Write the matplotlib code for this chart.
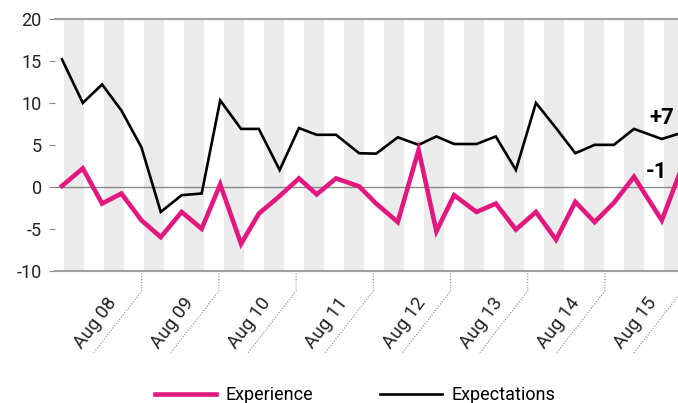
import matplotlib
matplotlib.use('Agg')
import matplotlib.pyplot as plt
from matplotlib.lines import Line2D
import numpy as np

plt.rcParams['font.family'] = ['Roboto', 'DejaVu Sans']
plt.rcParams['axes.unicode_minus'] = False

# survey dates (decimal years)
dates = [2007.55, 2007.82, 2008.07, 2008.32, 2008.58, 2008.83, 2009.10, 2009.36,
         2009.60, 2009.87, 2010.10, 2010.37, 2010.62, 2010.85, 2011.10, 2011.40,
         2011.62, 2011.90, 2012.17, 2012.40, 2012.63, 2012.92, 2013.17, 2013.43,
         2013.69, 2013.95, 2014.20, 2014.45, 2014.70, 2014.96, 2015.32, 2015.60]

experience = [0.1, 2.2, -2.0, -0.8, -4.0, -6.0, -3.0, -5.0,
              0.3, -6.8, -3.2, -1.1, 1.0, -0.9, 1.0, 0.05,
              -2.0, -4.2, 4.4, -5.3, -1.0, -3.0, -2.0, -5.1,
              -3.0, -6.3, -1.8, -4.2, -1.9, 1.2, -4.0, 2.8]

expectations = [15.2, 10.0, 12.2, 9.1, 4.7, -3.0, -1.0, -0.8,
                10.3, 6.9, 6.9, 2.0, 7.0, 6.2, 6.2, 4.0,
                3.95, 5.9, 5.0, 6.0, 5.1, 5.1, 6.0, 2.0,
                10.0, 7.0, 4.0, 5.0, 5.0, 6.9, 5.7, 6.5]

tick_years = [2008.583 + k for k in range(8)]
tick_labels = ['Aug 08', 'Aug 09', 'Aug 10', 'Aug 11', 'Aug 12', 'Aug 13', 'Aug 14', 'Aug 15']

pink = '#e2187f'

fig = plt.figure(figsize=(6.78, 4.03), dpi=100)
ax = fig.add_axes([55 / 678, 1 - 270.7 / 403, 623 / 678, 251.7 / 403])

# grey background stripes
for s in np.arange(2007.577, 2015.6, 0.518):
    ax.axvspan(s, s + 0.259, color='#ebebeb', lw=0, zorder=0)

ax.axhline(0, color='#8a8a8a', lw=1, zorder=1)
ax.plot(dates, expectations, color='black', lw=1.9, zorder=3, solid_joinstyle='miter')
ax.plot(dates, experience, color=pink, lw=3.3, zorder=4, solid_joinstyle='miter')

ax.set_xlim(2007.46, 2015.53)
ax.set_ylim(-10, 20)
ax.set_yticks(range(-10, 21, 5))
for side in ['left', 'right']:
    ax.spines[side].set_visible(False)
for side in ['top', 'bottom']:
    ax.spines[side].set_color('#a0a0a0')
    ax.spines[side].set_linewidth(1.5)
ax.tick_params(axis='y', length=4.5, width=0.8, color='#888888', pad=5,
               labelsize=13, labelcolor='#222222')
ax.tick_params(axis='x', bottom=False, labelbottom=False)

# year markers with dotted leader lines
trans = ax.get_xaxis_transform()
for t, lab in zip(tick_years, tick_labels):
    ax.plot([t, t, t - 0.635], [0, -0.0807, -0.331], transform=trans,
            ls=(0, (1, 1.5)), color='#888888', lw=0.8, clip_on=False)
    ax.text(t - 0.372, -0.116, lab, transform=trans, rotation=53,
            rotation_mode='anchor', ha='right', va='center', fontsize=13.5,
            color='#222222')

ax.text(2015.323, 8.2, '+7', ha='center', va='center', fontsize=16,
        fontweight='semibold')
ax.text(2015.258, 1.76, '-1', ha='center', va='center', fontsize=16,
        fontweight='semibold')

handles = [Line2D([], [], color=pink, lw=3.3), Line2D([], [], color='black', lw=1.9)]
fig.legend(handles, ['Experience', 'Expectations'], loc='center',
           bbox_to_anchor=(0.5236, 0.02), ncol=2, frameon=False, fontsize=13,
           handlelength=3.4, handletextpad=0.55, columnspacing=3.7)

fig.savefig('out.png', dpi=100)
